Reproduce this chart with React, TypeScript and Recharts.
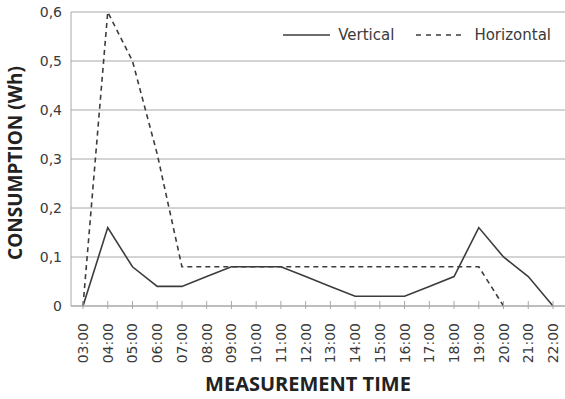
import React from 'react'
import {
  LineChart,
  Line,
  XAxis,
  YAxis,
  CartesianGrid,
  Label,
} from 'recharts'

const hours = [
  '03:00', '04:00', '05:00', '06:00', '07:00', '08:00', '09:00', '10:00', '11:00', '12:00',
  '13:00', '14:00', '15:00', '16:00', '17:00', '18:00', '19:00', '20:00', '21:00', '22:00',
]

const vertical = [
  0, 0.16, 0.08, 0.04, 0.04, 0.06, 0.08, 0.08, 0.08, 0.06,
  0.04, 0.02, 0.02, 0.02, 0.04, 0.06, 0.16, 0.1, 0.06, 0,
]

const horizontal = [
  0, 0.6, 0.5, 0.31, 0.08, 0.08, 0.08, 0.08, 0.08, 0.08,
  0.08, 0.08, 0.08, 0.08, 0.08, 0.08, 0.08, 0, null, null,
]

const yTicks = [0, 0.1, 0.2, 0.3, 0.4, 0.5, 0.6]

const data = hours.map((hour, i) => ({
  hour,
  vertical: vertical[i],
  horizontal: horizontal[i],
}))

const GRID = '#a8a8a8'
const LINE = '#3c3c3c'
const TEXT = '#3a3a3a'
const FONT = '"DejaVu Sans", sans-serif'

const HourTick = (props: any) => {
  const { x, y, payload } = props
  return (
    <g>
      <line x1={x} x2={x} y1={y - 5} y2={y + 3} stroke={GRID} strokeWidth={1} />
      <text
        x={x}
        y={y + 17}
        transform={`rotate(-90, ${x}, ${y + 17})`}
        textAnchor="end"
        dominantBaseline="central"
        fill={TEXT}
        fontSize={14}
        fontFamily={FONT}
      >
        {payload.value}
      </text>
    </g>
  )
}

// legend drawn as an overlay so it doesn't eat into the plot area
const LegendBox = () => (
  <div
    style={{
      position: 'absolute',
      top: 26,
      right: 14,
      display: 'flex',
      alignItems: 'center',
      fontFamily: FONT,
      fontSize: 15,
      color: TEXT,
      lineHeight: '18px',
    }}
  >
    <svg width={48} height={10}>
      <line x1={0} x2={47} y1={5} y2={5} stroke={LINE} strokeWidth={1.5} />
    </svg>
    <span style={{ marginLeft: 7 }}>Vertical</span>
    <svg width={51} height={10} style={{ marginLeft: 22 }}>
      <line x1={0} x2={50} y1={5} y2={5} stroke={LINE} strokeWidth={1.5} strokeDasharray="5 5" />
    </svg>
    <span style={{ marginLeft: 7 }}>Horizontal</span>
  </div>
)

export default function App() {
  return (
    <div style={{ position: 'absolute', left: 0, top: 0, width: 565, height: 399, background: '#fff' }}>
      <LineChart
        width={565}
        height={399}
        data={data}
        margin={{ top: 12, right: 0, left: 0, bottom: 0 }}
      >
        <CartesianGrid vertical={false} stroke={GRID} strokeWidth={1} />
        <XAxis
          dataKey="hour"
          height={93}
          stroke={GRID}
          tickLine={false}
          tickSize={0}
          tickMargin={0}
          interval={0}
          padding={{ left: 12, right: 12 }}
          tick={<HourTick />}
        >
          <Label
            value="MEASUREMENT TIME"
            position="insideBottom"
            offset={8}
            dx={-10}
            style={{ fontFamily: '"Open Sans", sans-serif', fontWeight: 700, fontSize: 20, fill: '#222' }}
          />
        </XAxis>
        <YAxis
          width={71}
          domain={[0, 0.6]}
          ticks={yTicks}
          stroke={GRID}
          tickLine={false}
          tickSize={0}
          tickMargin={9}
          tickFormatter={(v: number) => String(v).replace('.', ',')}
          tick={{ fill: TEXT, fontSize: 14, fontFamily: FONT }}
        >
          <Label
            value="CONSUMPTION (Wh)"
            angle={-90}
            position="insideLeft"
            offset={15}
            dy={4}
            style={{
              textAnchor: 'middle',
              fontFamily: '"Open Sans", sans-serif',
              fontWeight: 700,
              fontSize: 19,
              fill: '#222',
            }}
          />
        </YAxis>
        <Line
          type="linear"
          dataKey="vertical"
          stroke={LINE}
          strokeWidth={1.6}
          dot={false}
          isAnimationActive={false}
        />
        <Line
          type="linear"
          dataKey="horizontal"
          stroke={LINE}
          strokeWidth={1.6}
          strokeDasharray="5 4"
          dot={false}
          isAnimationActive={false}
        />
      </LineChart>
      <LegendBox />
    </div>
  )
}
